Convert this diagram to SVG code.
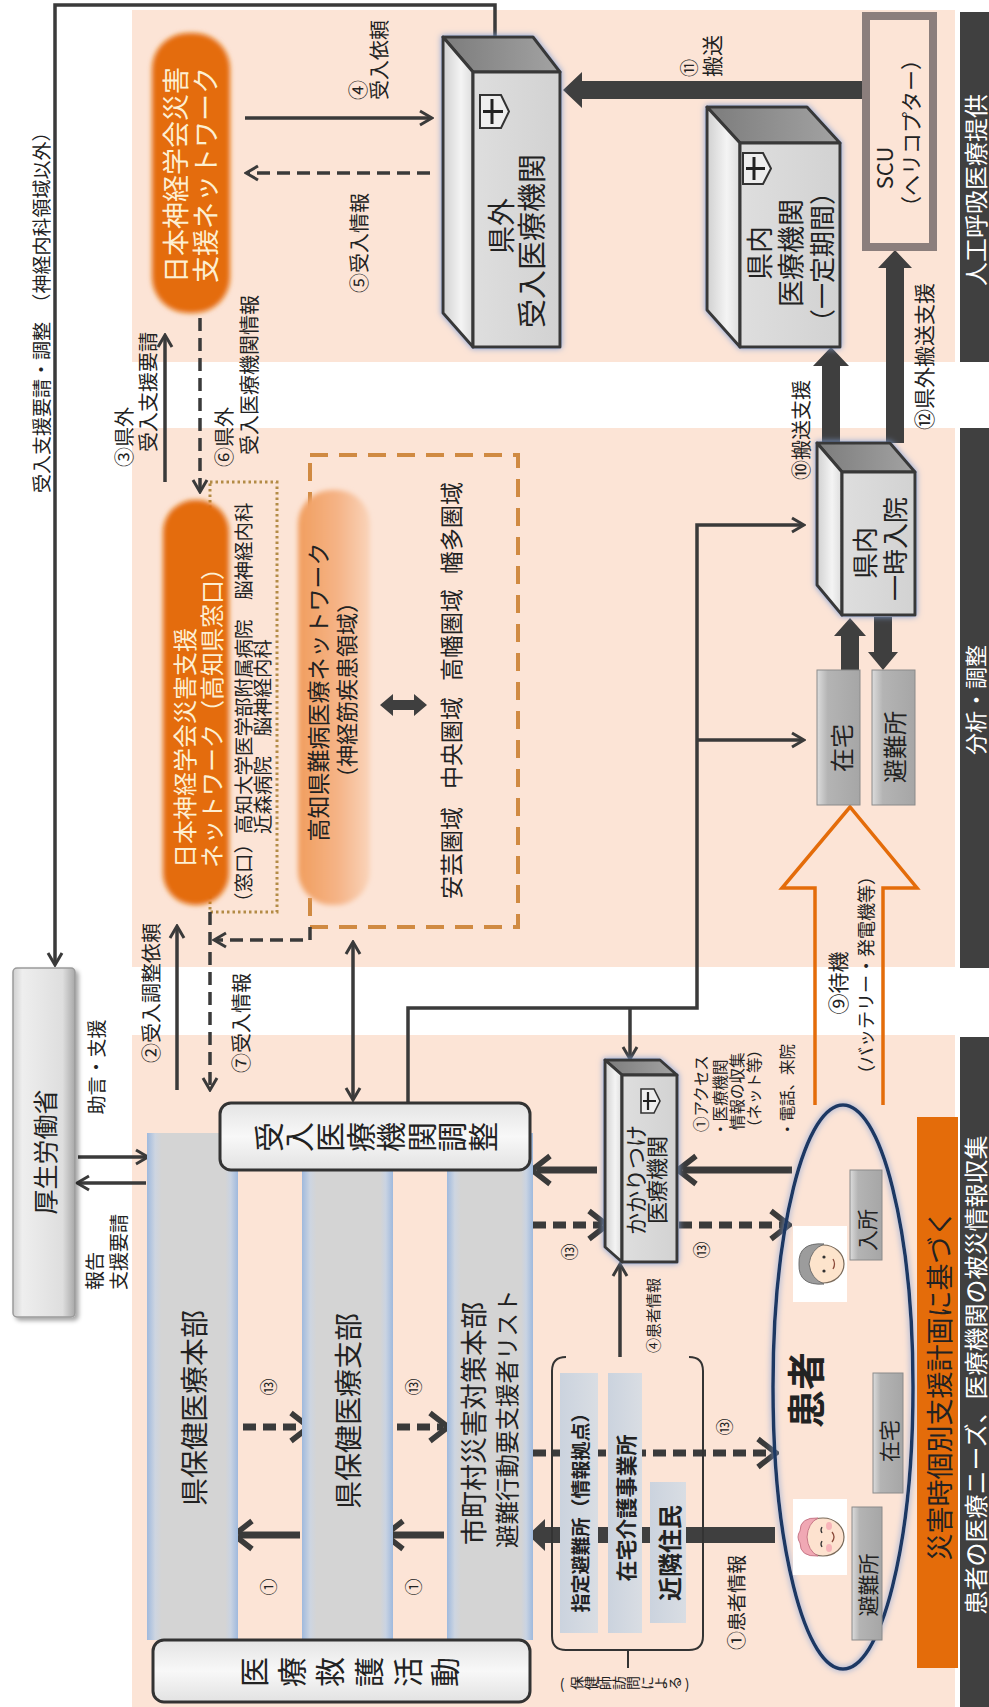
<svg xmlns="http://www.w3.org/2000/svg" width="989" height="1707" viewBox="0 0 989 1707">
<defs>
<style>
.t{font-family:"Noto Sans CJK JP","Noto Sans CJK SC",sans-serif;fill:#222}
.m{text-anchor:middle;dominant-baseline:central}
.st{text-anchor:start;dominant-baseline:central}
.wh{fill:#fff}
.cr{fill:#fdefd2}
.bd{font-weight:700}
.cn{fill:none;stroke:#3a3a3a;stroke-width:3.5}
.th{stroke-width:7}
.ds{stroke-dasharray:13 7}
.arr{fill:#3f3f3f}
.peach{fill:#fce4d6}
.dk{fill:#404040}
.edge{stroke:#383838;stroke-width:3;stroke-linejoin:round}
.topf{fill:url(#topg)}
.sidef{fill:url(#sideg)}
.frontf{fill:url(#frontg)}
.small{fill:url(#smallg);stroke:#8a8a8a;stroke-width:1}
</style>
<linearGradient id="colg" x1="0" x2="1" y1="0" y2="0">
<stop offset="0" stop-color="#9fb9dd"/><stop offset="0.09" stop-color="#cdd5e1"/><stop offset="0.16" stop-color="#d4d4d4"/><stop offset="0.86" stop-color="#d4d4d4"/><stop offset="0.92" stop-color="#c9d3e2"/><stop offset="1" stop-color="#9fb9dd"/>
</linearGradient>
<linearGradient id="boxg" x1="0" x2="0" y1="0" y2="1">
<stop offset="0" stop-color="#e4e4e4"/><stop offset="0.5" stop-color="#f8f8f8"/><stop offset="1" stop-color="#e2e2e2"/>
</linearGradient>
<linearGradient id="mhlw" x1="0" x2="1" y1="0" y2="0">
<stop offset="0" stop-color="#cfcfcf"/><stop offset="0.15" stop-color="#eeeeee"/><stop offset="0.8" stop-color="#dedede"/><stop offset="1" stop-color="#a8a8a8"/>
</linearGradient>
<linearGradient id="topg" x1="0" x2="1" y1="0" y2="0">
<stop offset="0" stop-color="#7c7c7c"/><stop offset="1" stop-color="#a3a3a3"/>
</linearGradient>
<linearGradient id="sideg" x1="0" x2="1" y1="0" y2="0">
<stop offset="0" stop-color="#d0d0d0"/><stop offset="0.6" stop-color="#f4f4f4"/><stop offset="1" stop-color="#dcdcdc"/>
</linearGradient>
<linearGradient id="frontg" x1="0" x2="1" y1="0" y2="0">
<stop offset="0" stop-color="#dedede"/><stop offset="1" stop-color="#d2d2d2"/>
</linearGradient>
<linearGradient id="smallg" x1="0" x2="1" y1="0" y2="0">
<stop offset="0" stop-color="#dcdcdc"/><stop offset="0.25" stop-color="#b4b4b4"/><stop offset="1" stop-color="#a6a6a6"/>
</linearGradient>
<linearGradient id="nanbyo" x1="0" x2="1" y1="0" y2="0">
<stop offset="0" stop-color="#f19e5e"/><stop offset="0.55" stop-color="#f5b386"/><stop offset="1" stop-color="#fad4ba"/>
</linearGradient>
<linearGradient id="infog" x1="0" x2="1" y1="0" y2="0">
<stop offset="0" stop-color="#cbd3de"/><stop offset="1" stop-color="#d9dde3"/>
</linearGradient>
<filter id="glow" x="-20%" y="-10%" width="140%" height="120%">
<feGaussianBlur in="SourceAlpha" stdDeviation="3" result="b"/>
<feFlood flood-color="#7f9fd6"/>
<feComposite in2="b" operator="in"/>
<feMerge><feMergeNode/><feMergeNode in="SourceGraphic"/></feMerge>
</filter>
<filter id="shade" x="-20%" y="-10%" width="150%" height="120%">
<feGaussianBlur in="SourceAlpha" stdDeviation="2" result="b"/>
<feOffset dx="3" dy="3" in="b" result="o"/>
<feFlood flood-color="#000" flood-opacity="0.35"/>
<feComposite in2="o" operator="in"/>
<feMerge><feMergeNode/><feMergeNode in="SourceGraphic"/></feMerge>
</filter>
<filter id="soft" x="-20%" y="-10%" width="140%" height="120%">
<feGaussianBlur stdDeviation="2.5"/>
</filter>
<marker id="ah" viewBox="0 0 16 18" refX="12" refY="9" markerWidth="16" markerHeight="18" markerUnits="userSpaceOnUse" orient="auto-start-reverse">
<path d="M2,2 L14,9 L2,16" fill="none" stroke="#3a3a3a" stroke-width="3"/>
</marker>
<marker id="ahb" viewBox="0 0 24 34" refX="16" refY="17" markerWidth="24" markerHeight="34" markerUnits="userSpaceOnUse" orient="auto-start-reverse">
<path d="M3,3 L21,17 L3,31" fill="none" stroke="#3a3a3a" stroke-width="5.5"/>
</marker>
</defs>

<!-- background bands -->
<rect x="0" y="0" width="989" height="1707" fill="#fff"/>
<rect class="peach" x="132" y="10" width="823" height="352"/>
<rect class="peach" x="132" y="428" width="823" height="539"/>
<rect class="peach" x="132" y="1035" width="823" height="672"/>
<rect class="dk" x="960" y="12" width="29" height="350"/>
<rect class="dk" x="960" y="428" width="29" height="540"/>
<rect class="dk" x="960" y="1037" width="29" height="670"/>
<g id="phase-labels">
<text class="t m wh" font-size="24" transform="translate(974,190) rotate(-90)">人工呼吸医療提供</text>
<text class="t m wh" font-size="22" transform="translate(974,700) rotate(-90)">分析・調整</text>
<text class="t m wh" font-size="24" transform="translate(974,1375) rotate(-90)">患者の医療ニーズ、医療機関の被災情報収集</text>
</g>

<!-- frames behind nodes -->
<rect x="210" y="482" width="67" height="430" fill="none" stroke="#b38b46" stroke-width="3" stroke-dasharray="2.5 3"/>
<rect x="310" y="455" width="208" height="472" fill="none" stroke="#d08a42" stroke-width="4" stroke-dasharray="18 11"/>

<g id="connectors">
<path class="cn" d="M55,963 V5 H495 V47" marker-start="url(#ah)" marker-end="url(#ah)" stroke="#1e1e1e"/>
<path class="cn" d="M78,1157 H146" marker-end="url(#ah)"/>
<path class="cn" d="M146,1183 H79" marker-end="url(#ah)"/>
<path class="cn" d="M165,482 V337" marker-end="url(#ah)"/>
<path class="cn ds" d="M200,318 V490" marker-end="url(#ah)"/>
<path class="cn" stroke-width="4.5" d="M245,118 H430" marker-end="url(#ah)"/>
<path class="cn ds" stroke-width="4.5" d="M430,173 H248" marker-end="url(#ah)"/>
<path class="cn" d="M177,1090 V928" marker-end="url(#ah)"/>
<path class="cn ds" d="M210,912 V1088" marker-end="url(#ah)"/>
<path class="cn ds" d="M310,927 V940 H216" marker-end="url(#ah)"/>
<path class="cn" d="M353,944 V1098" marker-start="url(#ah)" marker-end="url(#ah)"/>
<path class="cn" d="M408,1103 V1008 H697 V525 H802" marker-end="url(#ah)"/>
<path class="cn" d="M697,740 H802" marker-end="url(#ah)"/>
<path class="cn" d="M630,1008 V1057" marker-end="url(#ah)"/>
<path class="cn" d="M620,1357 V1266" marker-end="url(#ah)"/>
<path class="cn th" d="M597,1170 H537" marker-end="url(#ahb)"/>
<path class="cn th ds" d="M533,1225 H602" marker-end="url(#ahb)"/>
<path class="cn th" d="M792,1170 H683" marker-end="url(#ahb)"/>
<path class="cn th ds" d="M679,1225 H784" marker-end="url(#ahb)"/>
<path class="cn th ds" d="M533,1453 H771" marker-end="url(#ahb)"/>
<path class="cn th ds" d="M243,1427 H304" marker-end="url(#ahb)"/>
<path class="cn th" d="M300,1535 H239" marker-end="url(#ahb)"/>
<path class="cn th ds" d="M377,1427 H443" marker-end="url(#ahb)"/>
<path class="cn th" d="M444,1535 H390" marker-end="url(#ahb)"/>
<path class="arr" d="M866,81 H582 V72 L563,90 L582,108 V99 H866 Z"/>
<path class="arr" d="M822,443 V366 H813 L831,347 L849,366 H840 V443 Z"/>
<path class="arr" d="M886,443 V268 H878 L895,250 L912,268 H904 V443 Z"/>
<path class="arr" d="M841,670 V636 H834 L850,618 L866,636 H859 V670 Z"/>
<path class="arr" d="M874,617 V652 H868 L883,670 L898,652 H892 V617 Z"/>
<path class="arr" d="M775,1527 H545 V1519 L528,1535 L545,1551 V1543 H775 Z"/>
<path class="arr" d="M380,705 L393,694 V700 H414 V694 L427,705 L414,716 V710 H393 V716 Z"/>
<path d="M815,1105 V888 H782 L850,807 L917,888 H883 V1105" fill="none" stroke="#e46c0a" stroke-width="3.5" stroke-linejoin="miter"/>
</g>

<g id="connector-labels">
<text class="t st" font-size="19" transform="translate(40,493) rotate(-90)">受入支援要請・調整　（神経内科領域以外）</text>
<text class="t m" font-size="19" transform="translate(95,1067) rotate(-90)">助言・支援</text>
<text class="t st" font-size="19" transform="translate(93,1290) rotate(-90)">報告</text>
<text class="t st" font-size="19" transform="translate(117,1290) rotate(-90)">支援要請</text>
<text class="t st" font-size="20" transform="translate(123,467) rotate(-90)">③県外</text>
<text class="t st" font-size="20" transform="translate(147,452) rotate(-90)">受入支援要請</text>
<text class="t st" font-size="20" transform="translate(223,467) rotate(-90)">⑥県外</text>
<text class="t st" font-size="20" transform="translate(248,455) rotate(-90)">受入医療機関情報</text>
<text class="t st" font-size="20" transform="translate(357,100) rotate(-90)">④</text>
<text class="t st" font-size="20" transform="translate(378,100) rotate(-90)">受入依頼</text>
<text class="t st" font-size="20" transform="translate(358,293) rotate(-90)">⑤受入情報</text>
<text class="t st" font-size="20" transform="translate(150,1063) rotate(-90)">②受入調整依頼</text>
<text class="t st" font-size="20" transform="translate(240,1073) rotate(-90)">⑦受入情報</text>
<text class="t st" font-size="18" transform="translate(688,77) rotate(-90)">⑪</text>
<text class="t st" font-size="21" transform="translate(711,77) rotate(-90)">搬送</text>
<text class="t st" font-size="20" transform="translate(800,480) rotate(-90)">⑩搬送支援</text>
<text class="t st" font-size="21" transform="translate(923,430) rotate(-90)">⑫県外搬送支援</text>
<text class="t m" font-size="21" transform="translate(837,983) rotate(-90)">⑨待機</text>
<text class="t m" font-size="18" transform="translate(865,975) rotate(-90)">（バッテリー・発電機等）</text>
<text class="t st" font-size="15.5" transform="translate(700,1132) rotate(-90)">①アクセス</text>
<text class="t st" font-size="15.5" transform="translate(719,1137) rotate(-90)">・医療機関</text>
<text class="t st" font-size="15.5" transform="translate(736,1130) rotate(-90)">情報の収集</text>
<text class="t st" font-size="15.5" transform="translate(753,1135) rotate(-90)">（ネット等）</text>
<text class="t st" font-size="15.5" transform="translate(786,1137) rotate(-90)">・電話、来院</text>
<text class="t m" font-size="17" transform="translate(568,1252) rotate(-90)">⑬</text>
<text class="t m" font-size="17" transform="translate(700,1250) rotate(-90)">⑬</text>
<text class="t m" font-size="17" transform="translate(267,1387) rotate(-90)">⑬</text>
<text class="t m" font-size="17" transform="translate(412,1387) rotate(-90)">⑬</text>
<text class="t m" font-size="17" transform="translate(723,1427) rotate(-90)">⑬</text>
<text class="t m" font-size="17" transform="translate(267,1587) rotate(-90)">①</text>
<text class="t m" font-size="17" transform="translate(412,1587) rotate(-90)">①</text>
<text class="t st" font-size="15" transform="translate(652,1353) rotate(-90)">④患者情報</text>
<text class="t st" font-size="19" transform="translate(735,1650) rotate(-90)">①患者情報</text>
</g>

<g id="mhlw">
<rect x="13" y="968" width="62" height="349" rx="4" fill="url(#mhlw)" stroke="#9a9a9a" stroke-width="1.5" filter="url(#shade)"/>
<text class="t m" font-size="25" transform="translate(44,1152) rotate(-90)">厚生労働省</text>
</g>

<g id="jsn-network">
<rect x="152" y="33" width="78" height="280" rx="36" fill="#e46c0a" filter="url(#soft)"/>
<text class="t m cr" font-size="27" transform="translate(174,175) rotate(-90)">日本神経学会災害</text>
<text class="t m cr" font-size="27" transform="translate(204,175) rotate(-90)">支援ネットワーク</text>
</g>

<g id="jsn-kochi">
<rect x="163" y="500" width="66" height="405" rx="32" fill="#e46c0a" filter="url(#soft)"/>
<text class="t st cr" font-size="24" transform="translate(183,868) rotate(-90)">日本神経学会災害支援</text>
<text class="t st cr" font-size="24" transform="translate(210,868) rotate(-90)">ネットワーク（高知県窓口）</text>
</g>

<g id="kochi-hospitals">
<text class="t st" font-size="19.5" transform="translate(242,912) rotate(-90)">（窓口）高知大学医学部附属病院　脳神経内科</text>
<text class="t st" font-size="19.5" transform="translate(261,834) rotate(-90)">近森病院　脳神経内科</text>
</g>

<g id="nanbyo-network">
<rect x="298" y="490" width="72" height="415" rx="34" fill="url(#nanbyo)" filter="url(#soft)"/>
<text class="t m" font-size="23" transform="translate(317,692) rotate(-90)">高知県難病医療ネットワーク</text>
<text class="t m" font-size="22" transform="translate(345,690) rotate(-90)">（神経筋疾患領域）</text>
</g>

<g id="regions">
<text class="t m" font-size="23" transform="translate(450,853) rotate(-90)">安芸圏域</text>
<text class="t m" font-size="23" transform="translate(450,743) rotate(-90)">中央圏域</text>
<text class="t m" font-size="23" transform="translate(450,635) rotate(-90)">高幡圏域</text>
<text class="t m" font-size="23" transform="translate(450,528) rotate(-90)">幡多圏域</text>
</g>

<g id="outside-hospital">
<g filter="url(#glow)">
<polygon class="topf edge" points="443,37 533,37 560,72 473,72"/>
<polygon class="sidef edge" points="443,37 473,72 473,347 443,313"/>
<rect class="frontf edge" x="473" y="72" width="87" height="275"/>
</g>
<path d="M480,95 H501 L509,111.5 L501,128 H480 Z" fill="#eee" stroke="#333" stroke-width="2"/>
<path d="M483,111.5 H503 M492,99 V124" stroke="#222" stroke-width="3"/>
<text class="t m" font-size="28" transform="translate(500,226) rotate(-90)">県外</text>
<text class="t m" font-size="29" transform="translate(530,241) rotate(-90)">受入医療機関</text>
</g>

<g id="scu">
<rect x="866" y="16" width="67" height="231" fill="none" stroke="#8b7e7c" stroke-width="8"/>
<text class="t m" font-size="22" transform="translate(883,168) rotate(-90)">SCU</text>
<text class="t m" font-size="21" transform="translate(910,133) rotate(-90)">（ヘリコプター）</text>
</g>

<g id="prefecture-hospital">
<g filter="url(#glow)">
<polygon class="topf edge" points="707,107 807,107 840,143 740,143"/>
<polygon class="sidef edge" points="707,107 740,143 740,347 707,310"/>
<rect class="frontf edge" x="740" y="143" width="100" height="204"/>
</g>
<path d="M743,153 H763 L771,168.5 L763,184 H743 Z" fill="#eee" stroke="#333" stroke-width="2"/>
<path d="M746,168.5 H765 M754,157 V180" stroke="#222" stroke-width="3"/>
<text class="t m" font-size="27" transform="translate(758,253) rotate(-90)">県内</text>
<text class="t m" font-size="27" transform="translate(789,253) rotate(-90)">医療機関</text>
<text class="t m" font-size="26" transform="translate(820,257) rotate(-90)">（一定期間）</text>
</g>

<g id="temporary-admission">
<g filter="url(#glow)">
<polygon class="topf edge" points="817,443 890,443 915,472 842,472"/>
<polygon class="sidef edge" points="817,443 842,472 842,615 817,585"/>
<rect class="frontf edge" x="842" y="472" width="73" height="143"/>
</g>
<text class="t m" font-size="26" transform="translate(863,553) rotate(-90)">県内</text>
<text class="t m" font-size="26" transform="translate(893,549) rotate(-90)">一時入院</text>
</g>

<g id="home-upper">
<rect class="small" x="817" y="670" width="43" height="135"/>
<text class="t m" font-size="24" transform="translate(840,748) rotate(-90)">在宅</text>
</g>
<g id="shelter-upper">
<rect class="small" x="872" y="670" width="43" height="135"/>
<text class="t m" font-size="24" transform="translate(893,747) rotate(-90)">避難所</text>
</g>

<g id="family-clinic">
<g filter="url(#glow)">
<polygon class="topf edge" points="605,1060 660,1060 677,1075 622,1075"/>
<polygon class="sidef edge" points="605,1060 622,1075 622,1262 605,1247"/>
<rect class="frontf edge" x="622" y="1075" width="55" height="187"/>
</g>
<path d="M641,1089 H654 L660,1101 L654,1113 H641 Z" fill="#eee" stroke="#333" stroke-width="1.6"/>
<path d="M643,1101 H656 M648,1092 V1110" stroke="#222" stroke-width="2.2"/>
<text class="t m" font-size="22" transform="translate(634,1180) rotate(-90)">かかりつけ</text>
<text class="t m" font-size="22" transform="translate(655,1180) rotate(-90)">医療機関</text>
</g>

<g id="col-pref-hq">
<rect x="147" y="1133" width="91" height="507" fill="url(#colg)"/>
<text class="t m" font-size="28" transform="translate(193,1408) rotate(-90)">県保健医療本部</text>
</g>
<g id="col-pref-branch">
<rect x="302" y="1133" width="91" height="507" fill="url(#colg)"/>
<text class="t m" font-size="28" transform="translate(347,1411) rotate(-90)">県保健医療支部</text>
</g>
<g id="col-municipal">
<rect x="447" y="1133" width="86" height="507" fill="url(#colg)"/>
<text class="t st" font-size="27" transform="translate(472,1545) rotate(-90)">市町村災害対策本部</text>
<text class="t st" font-size="23.5" transform="translate(506,1548) rotate(-90)">避難行動要支援者リスト</text>
</g>

<g id="acceptance-coordination">
<rect x="220" y="1103" width="310" height="67" rx="11" fill="url(#boxg)" stroke="#333" stroke-width="3"/>
<g class="t" font-size="30">
<text class="m" transform="translate(267,1137) rotate(-90)">受</text>
<text class="m" transform="translate(297,1137) rotate(-90)">入</text>
<text class="m" transform="translate(328,1137) rotate(-90)">医</text>
<text class="m" transform="translate(359,1137) rotate(-90)">療</text>
<text class="m" transform="translate(389,1137) rotate(-90)">機</text>
<text class="m" transform="translate(420,1137) rotate(-90)">関</text>
<text class="m" transform="translate(450,1137) rotate(-90)">調</text>
<text class="m" transform="translate(481,1137) rotate(-90)">整</text>
</g>
</g>

<g id="medical-relief">
<rect x="153" y="1640" width="377" height="62" rx="11" fill="url(#boxg)" stroke="#333" stroke-width="3"/>
<g class="t" font-size="30">
<text class="m" transform="translate(252,1672) rotate(-90)">医</text>
<text class="m" transform="translate(290,1672) rotate(-90)">療</text>
<text class="m" transform="translate(328,1672) rotate(-90)">救</text>
<text class="m" transform="translate(367,1672) rotate(-90)">護</text>
<text class="m" transform="translate(406,1672) rotate(-90)">活</text>
<text class="m" transform="translate(443,1672) rotate(-90)">動</text>
</g>
</g>

<g id="supporters">
<path d="M566,1357 Q552,1357 552,1371 V1636 Q552,1650 566,1650 H689 Q703,1650 703,1636 V1371 Q703,1357 689,1357" fill="none" stroke="#333" stroke-width="2"/>
<path d="M628,1650 V1668" stroke="#333" stroke-width="2"/>
<rect x="560" y="1373" width="38" height="260" fill="url(#infog)"/>
<rect x="608" y="1373" width="34" height="260" fill="url(#infog)"/>
<rect x="650" y="1482" width="36" height="141" fill="url(#infog)"/>
<text class="t m bd" font-size="19" transform="translate(579,1508) rotate(-90)">指定避難所（情報拠点）</text>
<text class="t m bd" font-size="21" transform="translate(625,1508) rotate(-90)">在宅介護事業所</text>
<text class="t m bd" font-size="24" transform="translate(668,1553) rotate(-90)">近隣住民</text>
<g class="t" font-size="14">
<text class="m" x="562" y="1683">(</text>
<text class="m" transform="translate(576,1683) rotate(-90)">保</text>
<text class="m" transform="translate(590,1683) rotate(-90)">健</text>
<text class="m" transform="translate(604,1683) rotate(-90)">師</text>
<text class="m" transform="translate(618,1683) rotate(-90)">訪</text>
<text class="m" transform="translate(632,1683) rotate(-90)">問</text>
<text class="m" transform="translate(646,1683) rotate(-90)">に</text>
<text class="m" transform="translate(660,1683) rotate(-90)">よ</text>
<text class="m" transform="translate(674,1683) rotate(-90)">る</text>
<text class="m" x="687" y="1683">)</text>
</g>
</g>

<g id="patients">
<ellipse cx="843" cy="1387" rx="70" ry="282" fill="none" stroke="#1f3864" stroke-width="3.5" filter="url(#glow)"/>
<rect class="small" x="850" y="1170" width="32" height="90"/>
<text class="t m" font-size="21" transform="translate(866,1230) rotate(-90)">入所</text>
<rect class="small" x="873" y="1373" width="30" height="120"/>
<text class="t m" font-size="21" transform="translate(888,1441) rotate(-90)">在宅</text>
<rect class="small" x="852" y="1507" width="30" height="133"/>
<text class="t m" font-size="21" transform="translate(867,1585) rotate(-90)">避難所</text>
<text class="t m bd" font-size="38" transform="translate(803,1390) rotate(-90)">患者</text>
<g transform="translate(820,1264) rotate(-90)">
<rect x="-38" y="-27" width="76" height="54" fill="#fff"/>
<ellipse cx="0" cy="3" rx="19" ry="21" fill="#fde4cc" stroke="#7a6a5a" stroke-width="1.2"/>
<path d="M-20,4 Q-22,-22 0,-21 Q22,-22 20,4 Q15,-9 0,-11 Q-15,-9 -20,4 Z" fill="#9c9c9c" stroke="#6f6f6f" stroke-width="1"/>
<circle cx="-7" cy="4" r="1.6" fill="#333"/><circle cx="7" cy="4" r="1.6" fill="#333"/>
<path d="M-5,13 Q0,16 5,13" fill="none" stroke="#8a4a3a" stroke-width="1.3"/>
</g>
<g transform="translate(820,1537) rotate(-90)">
<rect x="-38" y="-27" width="76" height="54" fill="#fff"/>
<ellipse cx="0" cy="3" rx="19" ry="21" fill="#fde2cf" stroke="#7a6a5a" stroke-width="1.2"/>
<path d="M-19,-2 Q-20,-20 -6,-20 Q0,-24 6,-20 Q20,-20 19,-2 Q14,-12 0,-13 Q-14,-12 -19,-2 Z" fill="#f0a8b4" stroke="#c87888" stroke-width="1"/>
<ellipse cx="-11" cy="9" rx="4" ry="3" fill="#f7b3b8"/><ellipse cx="11" cy="9" rx="4" ry="3" fill="#f7b3b8"/>
<path d="M-10,2 Q-7,0 -4,2 M4,2 Q7,0 10,2" fill="none" stroke="#333" stroke-width="1.3"/>
<path d="M-5,12 Q0,16 5,12" fill="none" stroke="#8a4a3a" stroke-width="1.3"/>
</g>
</g>

<g id="support-plan">
<rect x="917" y="1117" width="41" height="551" fill="#e46c0a"/>
<text class="t m" font-size="27" fill="#2a1a0a" transform="translate(938,1385) rotate(-90)">災害時個別支援計画に基づく</text>
</g>
</svg>
